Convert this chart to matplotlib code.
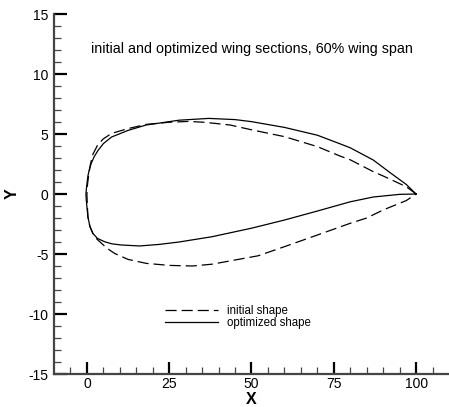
import matplotlib
matplotlib.use("Agg")
import matplotlib.pyplot as plt

plt.rcParams['font.family'] = ['Liberation Sans', 'DejaVu Sans']
plt.rcParams['lines.scale_dashes'] = False
plt.rcParams['axes.unicode_minus'] = False

# initial shape (dashed)
init_upper_x = [0, 0.1, 0.4, 1.0, 1.8, 3.3, 5.0, 7.5, 12.5, 18, 25, 31, 36, 43.5, 50, 60, 70, 77, 80, 87, 90, 97, 100]
init_upper_y = [0, 0.6, 1.3, 2.4, 3.3, 4.1, 4.6, 5.05, 5.45, 5.8, 5.98, 6.05, 5.97, 5.75, 5.35, 4.78, 3.95, 3.15, 2.85, 1.86, 1.5, 0.61, 0]
init_lower_x = [0, 0.1, 0.3, 0.9, 1.8, 3.0, 4.4, 6.0, 8.4, 12.5, 18, 25, 32, 38, 45, 52, 60, 70, 80, 85, 90, 97, 100]
init_lower_y = [0, -0.8, -1.9, -2.7, -3.28, -3.75, -4.1, -4.5, -4.95, -5.45, -5.78, -5.95, -6.0, -5.85, -5.5, -5.15, -4.39, -3.42, -2.44, -2.0, -1.33, -0.55, 0]

# optimized shape (solid)
opt_upper_x = [-0.3, -0.1, 0.3, 0.7, 1.3, 2.2, 3.3, 5.0, 7.5, 12.5, 18, 28, 37, 45, 50, 60, 70, 77, 80, 87, 92, 97, 100]
opt_upper_y = [0, 0.6, 1.5, 2.0, 2.55, 3.1, 3.6, 4.2, 4.75, 5.3, 5.75, 6.15, 6.3, 6.2, 6.03, 5.55, 4.9, 4.17, 3.85, 2.83, 1.8, 0.8, 0]
opt_lower_x = [-0.3, -0.2, 0.3, 0.9, 1.8, 3.2, 5.3, 7.5, 10.5, 16, 22, 28, 38, 50, 60, 70, 80, 87, 95, 100]
opt_lower_y = [0, -0.5, -1.9, -2.7, -3.28, -3.7, -3.97, -4.15, -4.25, -4.33, -4.2, -4.0, -3.56, -2.85, -2.17, -1.42, -0.65, -0.25, -0.03, 0]

title = "initial and optimized wing sections, 60% wing span"
labels = ["initial shape", "optimized shape"]
xticks = [0, 25, 50, 75, 100]
yticks = [-15, -10, -5, 0, 5, 10, 15]

fig = plt.figure(figsize=(4.49, 4.07), dpi=100)
ax = fig.add_axes([54/449, 33/407, 395/449, 360/407])

ix = init_upper_x[::-1] + init_lower_x[1:]
iy = init_upper_y[::-1] + init_lower_y[1:]
ox = opt_upper_x[::-1] + opt_lower_x[1:]
oy = opt_upper_y[::-1] + opt_lower_y[1:]

ax.plot(ix, iy, color='black', lw=0.9, dashes=(8, 3.6), label=labels[0])
ax.plot(ox, oy, color='black', lw=0.9, label=labels[1])

ax.set_xlim(-10, 110)
ax.set_ylim(-15, 15)
ax.set_xticks(xticks)
ax.set_yticks(yticks)
ax.set_xticks(range(-5, 110, 5), minor=True)
ax.set_yticks(range(-15, 16, 1), minor=True)
for s in ['top', 'right']:
    ax.spines[s].set_visible(False)
for s in ['left', 'bottom']:
    ax.spines[s].set_linewidth(1.6)
    ax.spines[s].set_color('#444444')
ax.tick_params(which='major', direction='in', length=9, width=1.6, color='black', labelsize=10, pad=4)
ax.tick_params(which='minor', direction='in', length=5, width=0.9, color='#444444')
ax.tick_params(axis='x', which='major', pad=2)

ax.set_xlabel('X', fontsize=11.5, fontweight='bold')
ax.set_ylabel('Y', fontsize=11.5, fontweight='bold')
ax.xaxis.set_label_coords((251-54)/395, (374-399)/360)
ax.yaxis.set_label_coords((12-54)/395, 0.5)
ax.xaxis.label.set_va('center')
ax.yaxis.label.set_va('center')

ax.text(50, 12.1, title, ha='center', va='center', fontsize=10.3)

leg = ax.legend(loc='upper left', bbox_to_anchor=((165-54)/395, (374-305)/360),
                frameon=False, fontsize=8.3, handlelength=4.6, handletextpad=0.8,
                labelspacing=0.0, borderpad=0, borderaxespad=0)

fig.savefig('out.png', dpi=100)
